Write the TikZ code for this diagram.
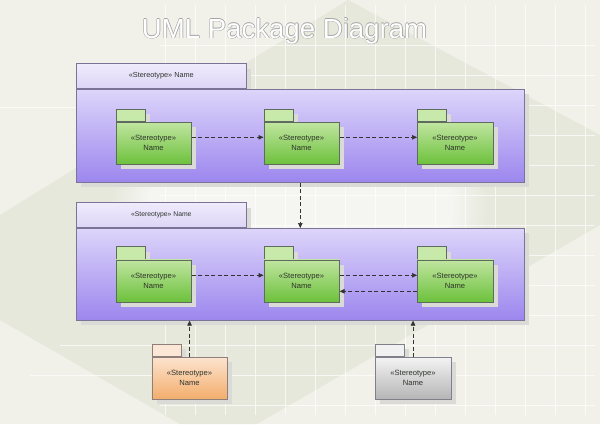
\documentclass[tikz,border=0pt]{standalone}
\usepackage{fontspec}
\setmainfont{Liberation Sans}
\usetikzlibrary{shadows,arrows.meta,fadings}
\definecolor{bg}{HTML}{F1F1EA}
\definecolor{bgdark}{HTML}{E6E8DC}
\definecolor{pkgline}{HTML}{7C7496}
\definecolor{ptabtop}{HTML}{EFEBFC}
\definecolor{ptabbot}{HTML}{DCD5F6}
\definecolor{pbodytop}{HTML}{DDD5FA}
\definecolor{pbodybot}{HTML}{9C86EE}
\definecolor{gtop}{HTML}{C0E5A0}
\definecolor{gbot}{HTML}{6CC13C}
\definecolor{gtab}{HTML}{C8E9AA}
\definecolor{gline}{HTML}{5F6B5F}
\definecolor{otop}{HTML}{FCE3CE}
\definecolor{obot}{HTML}{F3AD6C}
\definecolor{otab}{HTML}{FCE7D6}
\definecolor{oline}{HTML}{8F7F7A}
\definecolor{stop}{HTML}{F3F3F3}
\definecolor{sbot}{HTML}{B5B5B5}
\definecolor{stab}{HTML}{F1F1F1}
\definecolor{sline}{HTML}{80808A}
\definecolor{shadowc}{HTML}{DADAD6}
\definecolor{txt}{HTML}{2E332B}
\definecolor{deplc}{HTML}{333333}
\begin{document}
\begin{tikzpicture}[x=1pt,y=-1pt,
  sh/.style={drop shadow={shadow xshift=5pt,shadow yshift=-5pt,fill=shadowc,opacity=1}},
  tabbase/.style={line width=0.6pt,inner sep=0pt,anchor=south west,sh},
  ptab/.style={tabbase,draw=pkgline,top color=ptabtop,bottom color=ptabbot,
     minimum width=170pt,minimum height=25pt,text=txt,font=\fontsize{7.3}{9}\selectfont},
  pbody/.style={draw=pkgline,line width=0.6pt,inner sep=0pt,anchor=north west,
     top color=pbodytop,bottom color=pbodybot,minimum width=448pt,sh},
  smallbody/.style={line width=0.6pt,inner sep=0pt,anchor=north west,
     minimum width=75.5pt,minimum height=42pt,align=center,text=txt,
     font=\fontsize{7.6}{10}\selectfont,sh},
  smalltab/.style={tabbase,minimum width=29pt,minimum height=12.5pt},
  gbody/.style={smallbody,draw=gline,top color=gtop,bottom color=gbot},
  gtabs/.style={smalltab,draw=gline,top color=gtab,bottom color=gtab!85!gtop},
  obody/.style={smallbody,draw=oline,top color=otop,bottom color=obot},
  otabs/.style={smalltab,draw=oline,fill=otab},
  sbody/.style={smallbody,draw=sline,top color=stop,bottom color=sbot},
  stabs/.style={smalltab,draw=sline,fill=stab},
  dep/.style={draw=deplc,line width=0.7pt,dash pattern=on 4pt off 2.5pt,
     -{Triangle[length=5pt,width=4.5pt]}},
  grid line/.style={white,opacity=0.7,line width=0.8pt},
  titlefont/.style={anchor=base,font=\fontsize{27.6}{30}\selectfont}
]
\useasboundingbox (0,0) rectangle (600,424);
% background
\fill[bg] (0,0) rectangle (600,424);
\fill[bgdark] (0,215) -- (348,0) -- (600,135) -- (600,225) -- (257,424) -- (180,424) -- (0,320) -- cycle;
\fill[white,opacity=0.6,path fading=circle with fuzzy edge 20 percent] (300,205) ellipse (190pt and 110pt);
\foreach \gx in {165,195,...,585} \draw[grid line] (\gx,5) -- (\gx,415);
\foreach \gy in {45,75,...,315} \draw[grid line] (160,\gy) -- (595,\gy);
\draw[grid line] (0,107) -- (160,107);
\draw[grid line] (30,375) -- (595,375);
\draw[grid line] (60,345) -- (595,345);
\draw[grid line] (160,405) -- (595,405);
% title
\foreach \dx/\dy in {0.35/0,-0.35/0,0/0.35,0/-0.35,0.8/0.8,0.6/0.9}
  \node[titlefont,text=gray!70] (titleo) at (284.5+\dx,38+\dy) {UML Package Diagram};
\node[titlefont,text=white] (title) at (284.5,38) {UML Package Diagram};
% package 1
\node[ptab] (t1) at (76,89) {«Stereotype» Name};
\node[pbody,minimum height=93pt] (P1) at (76,89) {};
% package 2
\node[ptab,font=\fontsize{6.8}{9}\selectfont] (t2) at (76,228) {«Stereotype» Name};
\node[pbody,minimum height=92pt] (P2) at (76,228) {};
% green packages row 1
\node[gtabs] (t11) at (115.5,122) {};
\node[gbody] (g11) at (115.5,122) {«Stereotype»\\Name};
\node[gtabs] (t12) at (263.5,122) {};
\node[gbody] (g12) at (263.5,122) {«Stereotype»\\Name};
\node[gtabs] (t13) at (417,122) {};
\node[gbody] (g13) at (417,122) {«Stereotype»\\Name};
% green packages row 2
\node[gtabs] (t21) at (115.5,259.5) {};
\node[gbody] (g21) at (115.5,259.5) {«Stereotype»\\Name};
\node[gtabs] (t22) at (263.5,259.5) {};
\node[gbody] (g22) at (263.5,259.5) {«Stereotype»\\Name};
\node[gtabs] (t23) at (417,259.5) {};
\node[gbody] (g23) at (417,259.5) {«Stereotype»\\Name};
% bottom packages
\node[otabs] (to) at (151.5,357) {};
\node[obody] (op) at (151.5,357) {«Stereotype»\\Name};
\node[stabs] (ts) at (375,357) {};
\node[sbody] (sp) at (375,357) {«Stereotype»\\Name};
% dependencies
\draw[dep] ([yshift=6pt]g11.east) -- ([yshift=6pt]g12.west);
\draw[dep] ([yshift=6pt]g12.east) -- ([yshift=6pt]g13.west);
\draw[dep] ([yshift=5.5pt]g21.east) -- ([yshift=5.5pt]g22.west);
\draw[dep] ([yshift=5.5pt]g22.east) -- ([yshift=5.5pt]g23.west);
\draw[dep] ([yshift=-10.5pt]g23.west) -- ([yshift=-10.5pt]g22.east);
\draw[dep] (P1.south) -- (P2.north);
\draw[dep] (op.north) -- (op.north |- P2.south);
\draw[dep] (sp.north) -- (sp.north |- P2.south);
\end{tikzpicture}
\end{document}
